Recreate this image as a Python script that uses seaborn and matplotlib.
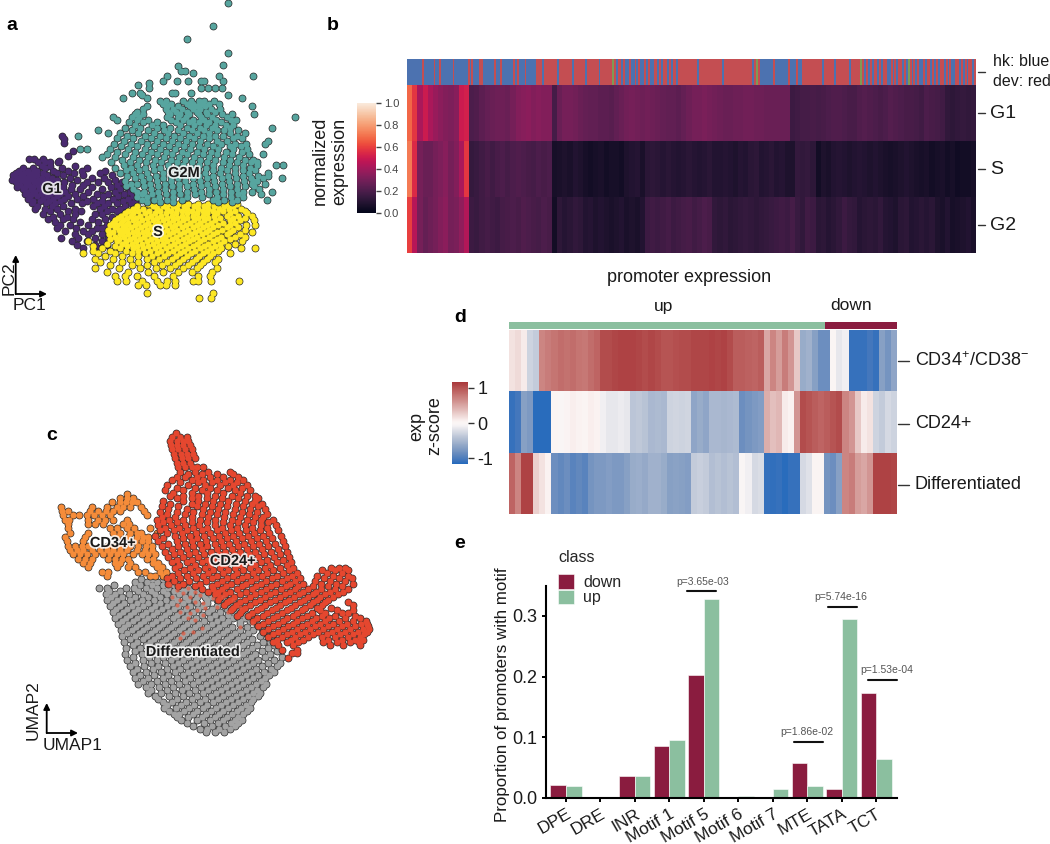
import numpy as np
import pandas as pd
import matplotlib
matplotlib.use("Agg")
import matplotlib.pyplot as plt
import matplotlib.patheffects as pe
from matplotlib.colors import ListedColormap
import seaborn as sns

W, H = 1050, 844

# panel a, cell coordinates on an arbitrary PC1/PC2 scale, one (PC2, [PC1...]) per row
g1_rows = [
    (408,[185]),(418,[193]),(428,[193]),(452,[218]),(467,[203]),(482,[177]),
    (478,[88,102,128]),(487,[115,135,150,175]),(497,[125,150,225]),
    (505,[70,100,135,185,260]),(512,[58,85,112,160,205,245,315]),
    (519,[48,72,98,128,172,222,300]),(526,[40,62,88,112,142,190,250,335]),
    (533,[52,76,100,125,155,210,275,312]),(540,[35,64,88,114,140,170,232,345]),
    (547,[48,76,102,128,158,192,262,295,325,365]),(554,[60,88,114,140,172,215,250,350]),
    (561,[52,76,100,128,155,190,275,332,380]),(568,[68,92,118,145,175,212,240,305,360]),
    (575,[80,105,132,160,195,265,345,390]),(582,[75,96,122,150,180,225,290,325,372]),
    (589,[90,112,140,170,205,250,310,355,400]),(596,[85,128,158,192,232,278,340,385]),
    (603,[100,120,148,180,262,305,368,405]),(610,[95,138,165,212,245,290,325,350,392]),
    (618,[112,155,190,280,312,375]),(626,[105,135,172,225,300,335,360,398]),
    (634,[150,205,242,320,350,385]),(642,[130,180,225,285,305,375]),
    (650,[160,200,335,360]),(658,[145,188,218,275,315,385]),(666,[165,240,295,345]),
    (675,[180,210,265,320]),(684,[170,228,290,305,340]),(693,[195,250,275]),
    (702,[225,265,305]),(714,[183,235,285,325]),(724,[215,262,305]),(735,[232,285,320]),(745,[248,300]),
]
s_rows = [
    (612,[445,475,505,535,565,595,625,655,685,712]),
    (619,[410,458,490,520,552,582,612,642,672,700]),
    (626,[398,430,470,500,532,562,595,625,658,688,722]),
    (633,[385,415,448,480,512,545,575,608,640,670,705,735]),
    (640,[375,400,435,465,498,528,560,592,622,652,690,740]),
    (647,[362,392,420,452,482,515,545,578,610,642,680,715,755]),
    (654,[355,380,408,440,470,502,532,562,595,625,660,700,735]),
    (661,[345,370,398,425,458,488,520,550,582,612,645,690,720,762]),
    (668,[340,362,385,415,445,475,508,538,570,600,632,670,705]),
    (675,[330,352,378,405,435,465,495,525,558,590,622,655,690,738,765]),
    (682,[345,368,392,422,452,482,515,545,578,608,640,680,715]),
    (689,[325,358,382,410,440,470,502,532,565,598,628,665,700,735]),
    (696,[338,370,398,428,458,490,520,552,585,618,650,690,757]),
    (703,[328,360,385,415,445,478,508,540,572,605,640,680,720]),
    (710,[345,372,402,432,465,495,528,560,592,628,662,705,735]),
    (717,[330,358,390,420,452,485,515,548,580,612,650,690]),
    (724,[265,350,378,408,440,472,502,535,568,600,640,672,727]),
    (731,[320,365,395,425,458,490,522,555,590,625,660,705]),
    (738,[280,345,382,412,445,478,510,542,578,612,645,685]),
    (745,[305,360,398,430,465,498,530,565,600,632,662,723,765]),
    (752,[278,330,378,415,450,482,518,552,585,620,655]),
    (760,[250,295,345,395,435,470,505,540,572,610,640,690]),
    (768,[315,365,415,455,492,528,562,598,630]),
    (776,[285,340,390,440,478,515,550,588,622,655]),
    (785,[300,365,415,462,500,538,575,610,645]),
    (795,[330,395,440,485,525,565,600]),
    (805,[285,358,420,468,510,550,590,650]),
    (816,[320,385,445,490,535,575,635]),
    (828,[345,375,410,462,518,595,630]),
    (842,[352,378,425,470,500,525,580,595,632,716]),
    (856,[415,438,480,497,525]),
    (878,[442,640]),(893,[598,634]),
]
g2m_rows = [
    (8,[683]),(78,[640]),(118,[560]),(158,[683]),(195,[668]),(197,[535]),(212,[555,543]),
    (218,[580]),(228,[758,658,500]),(243,[490,530,565,603,612,670]),(250,[448]),(255,[415]),
    (265,[448,603,625,645,665]),(278,[397,420,515,525,573]),(285,[425,683]),(295,[368,440,725]),
    (303,[481,497,548,573,596,612,641]),(311,[490,512,561,580,603,628,656]),
    (319,[440,501,533,571,590,614,755]),(327,[430,497,518,545,578,600,633,660]),
    (335,[412,505,527,561,590,618,645]),(343,[405,428,510,541,568,596,622,665,697,762]),
    (351,[340,395,418,501,533,558,603,636,681,886]),(359,[352,410,445,512,549,579,612,648,692,707]),
    (367,[388,430,470,527,566,596,628,663]),(375,[405,456,488,541,582,618,645,677,700]),
    (383,[376,420,470,510,560,600,635,690,815]),(391,[293,395,445,492,533,575,612,652,672,714]),
    (399,[325,360,413,462,505,548,590,628,690,735]),(407,[233,382,434,480,522,566,608,645,668,712]),
    (415,[350,400,452,497,540,583,628,700,726]),(423,[372,424,470,515,558,600,650,680,805]),
    (431,[341,392,440,490,533,575,620,662,705,737,795]),(439,[362,412,462,508,552,596,640,690,722]),
    (447,[260,240,330,385,434,480,525,570,612,655,700,742]),(455,[352,405,452,498,545,590,632,678,725]),
    (463,[320,375,425,472,517,562,608,650,695,748,788]),(471,[305,345,398,445,492,538,582,628,672,718]),
    (479,[365,418,464,512,555,600,645,690,735,760]),(487,[332,390,437,482,530,575,620,668,712,752,770]),
    (495,[372,412,458,505,550,596,640,686,730,772,827,850]),(503,[345,392,435,480,528,572,618,662,705,750]),
    (511,[378,418,462,506,548,595,638,682,728,765]),(519,[360,400,442,488,530,572,616,660,705,748,805]),
    (527,[382,424,468,512,555,598,640,685,730,775,805]),(535,[405,448,490,534,578,620,665,708,752,790,845]),
    (543,[375,428,470,512,556,600,642,688,732,770,760]),(551,[392,410,450,494,536,580,622,665,710,755,795]),
    (559,[378,432,474,516,560,604,646,690,735,762]),(567,[400,452,495,538,582,626,668,712,778]),
    (575,[412,432,475,518,560,604,648,692,730,755,815]),(583,[425,455,498,540,584,626,670,714,782]),
    (591,[410,440,478,520,562,606,650,692,728]),(599,[425,462,500,545,640,672,712,800]),
    (607,[442,480,520,655,695]),
]

# panel c, UMAP coordinates on an arbitrary scale
orange_rows = [
    (222,[320]),(235,[300,320,340]),(247,[275,300,318,336,350]),
    (260,[122,215,262,290,310,330,362]),(273,[125,145,210,235,258,280,300,372]),
    (286,[130,160,178,200,222,245,270,380]),(299,[135,148,205,235,255,280,322]),
    (312,[145,205,225,248,310,328]),(325,[145,270,290,320,342,390]),
    (338,[150,205,280,300,330,350,362,412]),(351,[135,195,290,325,350,370,385]),
    (364,[140,190,345,365,385]),(377,[145,165,185,205,260,280,300,330,355,378,395]),
    (390,[150,170,188,215,240,260,280,300,320,350,375,395]),
    (403,[160,180,200,225,250,270,290,310,340,365,385,405]),
    (416,[175,195,215,265,285,305,325,380,400]),
    (429,[190,210,285,300,330,400,415]),(442,[205,290,325,345,410,425]),
    (455,[245,265,355,375,420,438]),(468,[262,390,405,430,445]),
]
red_rows = [
    (38,[467]),(50,[455,480,500]),(62,[450,470,490,505]),(75,[452,470,488,510]),
    (88,[455,475,495,515]),(102,[462,482,500,520]),(115,[465,485,505,525]),(128,[470,490,510]),
    (142,[475,495,515,530,550]),
    (155,[480,525,565,630]),(163,[505,545,590,640]),(171,[470,495,530,570,610,655]),
    (179,[455,515,550,590,630,670]),(187,[480,535,575,615,650]),(195,[440,505,555,600,640,680]),
    (203,[470,525,570,625,665]),(211,[435,490,545,590,645,690]),(219,[460,515,560,610,660]),
    (227,[450,490,535,585,635,680,705]),(235,[470,515,560,605,655,715]),
    (243,[430,490,535,580,625,675,705]),(251,[450,515,555,600,648,695,725]),
    (259,[425,475,530,575,622,670,715]),(267,[445,500,550,595,645,690,735]),
    (275,[420,470,520,570,615,665,712]),(283,[440,495,545,590,640,688,742]),
    (291,[425,465,515,565,612,660,705,730]),(299,[410,448,490,540,585,635,680,722,758]),
    (307,[430,470,515,560,610,655,700,745]),(315,[415,452,495,538,585,630,675,722,768]),
    (323,[435,478,520,562,605,650,695,740]),(331,[420,462,502,545,590,632,678,720,775]),
    (339,[440,485,528,570,615,658,702,748]),(347,[405,465,510,552,596,640,685,728,782]),
    (355,[430,490,532,578,622,665,710,755]),(363,[415,470,515,558,602,648,692,738,788]),
    (371,[445,495,540,585,628,672,718,765]),(379,[425,475,520,562,610,655,700,745,795]),
    (387,[455,500,545,590,635,680,725,775]),(395,[435,480,525,572,615,660,705,752,800]),
    (403,[462,508,552,598,642,688,732,780]),(411,[445,490,535,580,625,670,715,762,808]),
    (419,[472,515,560,605,650,695,742,790]),(427,[455,500,545,590,632,678,722,770,812]),
    (435,[478,525,570,615,660,705,750,800]),(443,[465,510,555,600,645,690,735,780,820,932,958,975]),
    (451,[492,535,580,625,670,715,760,808,905,945,985]),(459,[475,520,565,610,652,698,742,790,830,922,965]),
    (467,[455,500,548,592,638,680,725,772,815,892,940,985]),(475,[440,480,528,575,620,665,708,755,800,840,912,958,995]),
    (483,[462,508,558,605,650,692,738,785,825,885,930,975]),(491,[445,490,540,590,632,678,722,768,810,850,902,948,1000]),
    (499,[475,525,575,618,665,708,752,798,835,880,925,965]),(507,[545,578,605,650,695,738,782,825,865,902,945,985]),
    (515,[565,595,630,678,722,765,810,850,888,930,968]),(523,[585,615,660,705,750,795,838,878,915,955]),
    (531,[600,642,690,735,780,822,865,900,940]),(539,[595,630,675,720,765,808,852,890,925]),
    (547,[620,660,705,750,795,840,880,915,985]),(555,[612,648,690,735,780,825,870,905,998]),
    (563,[640,675,722,768,812,855,892,932]),(571,[632,665,710,755,800,845,900,950,1000]),
    (579,[660,695,740,785,830,875,915,965,985]),(587,[652,685,728,772,818,860,905,945,1005]),
    (595,[712,758,802,845,888,928,975,1020]),(603,[700,745,790,832,875,915,958,1000,1038]),
    (611,[730,775,818,860,900,940,982,1022,1040]),(619,[715,760,805,845,885,925,965,1005,1045]),
    (627,[745,790,830,870,910,950,990,1028,1048]),(635,[730,775,815,855,895,935,975,1015,1040]),
    (643,[760,800,840,880,920,960,1000,1032]),(651,[745,785,825,865,905,945,985,1020]),
    (659,[770,812,850,925,965,1005,1030]),(667,[760,800,835,910,950,990,1018]),
    (676,[775,820,930,970,1020]),(689,[785,830]),(700,[815,830]),(713,[805]),
]
gray_rows = [
    (478,[362,395,430]),(487,[345,380,412,445,478]),(496,[282,360,395,428,462]),
    (505,[237,262,318,342,378,410,445,482,505]),(514,[268,300,355,392,428,462,492,515,535]),
    (523,[258,285,328,368,405,440,478,512,545,570]),(532,[272,305,345,385,420,458,495,530,555,575,600]),
    (541,[262,292,330,365,402,438,472,505,525,562,590,618]),(550,[280,312,350,385,420,455,490,530,560,600,640]),
    (559,[270,300,335,368,405,440,475,510,550,590,625,655]),(568,[288,322,355,392,425,462,498,535,575,620,650]),
    (577,[278,308,342,378,412,448,482,520,565,600,640,672]),(586,[296,330,365,398,435,470,505,545,585,625,660,680]),
    (595,[285,318,352,385,422,458,492,528,570,605,640,675,700]),(604,[305,338,372,408,442,478,515,552,590,625,660,690]),
    (613,[295,325,360,395,430,465,500,538,575,612,660,712]),(622,[312,348,382,418,452,488,525,560,598,635,680,722]),
    (631,[302,335,370,405,440,476,510,548,585,622,660,700,735]),(640,[322,358,392,428,462,498,535,572,608,645,685,725]),
    (649,[305,345,380,415,450,485,522,558,595,632,670,720,745]),(658,[330,368,402,438,475,510,545,582,620,655,695,760]),
    (667,[312,352,390,425,462,498,535,570,608,645,680,730,750]),(676,[338,378,412,450,485,522,558,595,632,668,712,762]),
    (685,[318,360,398,436,472,510,545,582,618,655,695,745]),(694,[345,385,422,460,498,532,570,606,642,680,725,770]),
    (703,[315,365,408,445,482,520,556,592,630,668,705,750]),(712,[340,388,430,468,505,542,580,618,655,692,735,785]),
    (721,[322,368,410,452,490,528,565,602,640,678,715,762]),(730,[345,392,435,475,512,550,588,625,662,700,745,780]),
    (739,[330,372,415,458,498,535,572,610,648,685,725,770]),(748,[352,398,440,480,520,558,595,632,670,708,752]),
    (757,[338,378,422,465,505,542,580,618,655,692,732,762]),(766,[360,402,445,488,528,565,602,640,678,715,748]),
    (775,[345,385,428,470,510,550,588,625,662,700,735]),(784,[368,410,452,495,535,572,610,648,685,722]),
    (793,[355,392,435,478,518,558,595,632,670,708,738]),(802,[378,418,460,502,542,580,618,655,692,728]),
    (811,[392,440,485,525,565,602,640,678,712]),(820,[385,422,465,508,548,588,625,662,700,720]),
    (829,[405,448,490,532,572,610,648,685,715]),(838,[415,470,515,555,595,632,670,698]),
    (847,[428,455,498,540,580,618,655,692]),(856,[440,482,522,562,602,640,678]),
    (865,[432,468,508,548,588,625,662,690]),(874,[448,492,532,572,610,650,680]),
    (883,[462,478,518,558,598,635,668]),(892,[470,505,545,585,622,655]),
    (901,[482,530,570,610,645,665]),(910,[500,552,595,632,655]),(919,[520,575,615,645]),
    (928,[540,560,598,630]),(937,[558,585,612]),
]
# red and orange cells scattered inside the grey cloud, no outline
overlap_x = [450,470,490,505,525,455,480,510,540,470,500,525,550,580,610,640,660,480,510,530,555,590,625,505,525,550,490,480,520,545,685,695,660]
overlap_y = [495,510,520,505,515,530,540,530,525,555,560,545,550,535,530,540,560,575,580,570,565,560,575,595,600,585,640,655,635,625,585,610,620]

# panel b, expression per promoter bin
g1_expr = [
    .68,.58,.42,.50,.42,.38,.35,.33,.32,.34,
    .50,.52,.20,.21,.24,.26,.27,.28,.28,.27,
    .30,.33,.34,.35,.33,.34,.33,.33,.18,.27,
    .30,.30,.29,.27,.26,.25,.25,.24,.24,.23,
    .25,.27,.29,.30,.29,.28,.29,.28,.27,.26,
    .25,.25,.24,.26,.28,.30,.30,.31,.30,.29,
    .28,.27,.27,.28,.28,.29,.29,.28,.28,.27,
    .27,.27,.27,.27,.16,.17,.18,.18,.19,.18,
    .19,.20,.21,.21,.20,.19,.19,.21,.22,.21,
    .20,.19,.20,.22,.21,.20,.19,.19,.18,.17,
    .20,.19,.18,.17,.13,.12,.13,.14,.13,.14]
s_expr = [
    .72,.55,.30,.27,.27,.30,.32,.34,.30,.33,
    .42,.58,.14,.15,.17,.19,.17,.19,.20,.18,
    .20,.21,.20,.19,.18,.20,.19,.20,.06,.07,
    .08,.07,.09,.08,.06,.05,.06,.07,.05,.06,
    .06,.05,.08,.09,.10,.07,.11,.12,.11,.10,
    .11,.10,.09,.10,.11,.10,.09,.10,.11,.09,
    .09,.10,.09,.08,.10,.09,.11,.12,.09,.10,
    .11,.09,.10,.08,.08,.14,.13,.14,.12,.05,
    .08,.07,.09,.10,.09,.08,.09,.10,.09,.08,
    .09,.08,.07,.06,.07,.08,.09,.08,.07,.06,
    .07,.05,.06,.07,.05,.06,.04,.05,.05,.06]
g2_expr = [
    .60,.45,.30,.26,.28,.30,.33,.35,.30,.31,
    .36,.44,.16,.15,.17,.18,.17,.16,.18,.19,
    .20,.19,.21,.20,.19,.18,.20,.19,.05,.12,
    .10,.11,.13,.12,.09,.10,.08,.09,.08,.07,
    .08,.09,.07,.08,.07,.09,.16,.17,.16,.17,
    .18,.16,.17,.18,.19,.17,.18,.20,.19,.13,
    .12,.13,.11,.12,.13,.14,.13,.12,.13,.14,
    .15,.16,.17,.16,.18,.15,.13,.17,.16,.11,
    .12,.10,.11,.13,.16,.14,.13,.10,.11,.12,
    .11,.13,.10,.09,.08,.11,.12,.09,.10,.11,
    .10,.11,.08,.07,.09,.06,.07,.08,.09,.07]
# b = housekeeping, r = developmental, g = other
promoter_class = (
    "bbbbbbbbrbbbbbrbbrbbbbbbrbbbbb"
    "bbrbrbbbrrbbbbbbrbbrbbbbbbrbrb"
    "bbrbbbbbrrrbrrrrrrrbrrrrrrrbrr"
    "rrrrbrrrrrrbrrrrrrgrbrrbrbbrbb"
    "rbrbbrbrbbrrbrbrrbrbrrbrrrrrrr"
    "rrrbrrrrrrrrrrrrbrrrrrrrrrrrrr"
    "rrbrgrbbbbbbbrbbbbbbbrbbbrbbrr"
    "rrrrrrrrrbrrrrrbrrrrrrrbrrrrrg"
    "rbrbrbrrbrbrrbbrbrbrrbrbgrbrbr"
    "bbrbrrbrbrbrrbrbrbbrrbrbrbrrbr")
phase_labels = ["G1", "S", "G2"]

# panel d, z-score per promoter bin
cd34_z = [.15,.2,.1,-.3,-.35,.7,.75,.8,.85,.82,.85,.8,.78,.85,.9,1.05,1.05,1.08,1.1,1.1,
          1.1,1.08,1.05,1.08,1.05,1.0,1.0,1.03,1.05,1.05,1.08,1.08,1.08,1.1,1.08,1.1,1.05,.95,.95,.92,
          .9,.95,.5,.7,.55,.75,.6,.3,-.6,-.55,-.7,-.85,-.85,.0,-.15,-.1,-1.1,-1.1,-1.1,-1.05,-1.1,-.7,-.8,-.65]
cd24_z = [-1.1,-1.05,-.7,-.75,-1.15,-1.15,-1.15,.02,-.02,.03,.08,.05,.02,.08,.05,-.1,-.15,-.15,-.12,-.15,
          -.4,-.38,-.42,-.5,-.48,-.5,-.3,-.28,-.3,-.28,-.65,-.6,-.65,-.5,-.5,-.52,-.5,-.48,-.85,-.8,
          -.75,-.72,.45,.35,.4,.1,.05,.6,1.05,1.0,.95,.9,.95,1.0,1.05,.7,.6,.3,.1,.15,-.3,-.35,-.25,-.3]
diff_z = [.9,.7,1.1,1.1,.25,.15,.05,-.85,-.9,-.85,-.95,-.9,-.95,-.8,-.75,-.75,-.72,-.75,-.75,-.7,
          -.6,-.58,-.62,-.55,-.55,-.6,-.7,-.68,-.7,-.72,-.35,-.32,-.35,-.45,-.42,-.45,-.42,-.45,-.02,-.1,
          -.25,-.22,-1.1,-1.12,-1.1,-1.15,-1.1,-1.1,-.25,-.2,.02,.02,-.8,-.85,-.7,.7,.75,.55,.5,.6,1.1,1.1,1.1,1.08]
state_labels = ["CD34$^{+}$/CD38$^{-}$", "CD24+", "Differentiated"]

# panel e
motifs = ["DPE", "DRE", "INR", "Motif 1", "Motif 5", "Motif 6", "Motif 7", "MTE", "TATA", "TCT"]
down_prop = [.022, 0, .036, .086, .202, 0, 0, .058, .015, .173]
up_prop = [.020, 0, .037, .096, .327, .004, .015, .019, .295, .064]
pval_text = ["p=3.65e-03", "p=1.86e-02", "p=5.74e-16", "p=1.53e-04"]
pval_from = [3.52, 6.6, 7.6, 8.76]
pval_to = [4.36, 7.44, 8.44, 9.6]
pval_y = [.34, .093, .315, .195]
pval_text_x = [3.95, 6.98, 7.97, 9.3]

DOWN = "#8a1c3f"
UP = "#8bbf9f"

sns.set_theme(style="white")
plt.rcParams["font.family"] = ["Liberation Sans", "DejaVu Sans"]
plt.rcParams["mathtext.default"] = "regular"
plt.rcParams["mathtext.fontset"] = "custom"
plt.rcParams["mathtext.rm"] = "Liberation Sans"
INK = "#1a1a1a"

fig = plt.figure(figsize=(W / 100, H / 100), dpi=100)


def px_axes(x0, y0, x1, y1):
    return fig.add_axes([x0 / W, 1 - y1 / H, (x1 - x0) / W, (y1 - y0) / H])


def label(x, y, s, size=13, **kw):
    kw.setdefault("ha", "center")
    kw.setdefault("va", "center")
    kw.setdefault("color", INK)
    return fig.text(x / W, 1 - y / H, s, fontsize=size, **kw)


def flat(rows):
    xs, ys = [], []
    for y, row in rows:
        xs += row
        ys += [y] * len(row)
    return xs, ys


def cells(ax, rows, color):
    xs, ys = flat(rows)
    sns.scatterplot(x=xs, y=ys, s=31, color="#262626", linewidth=0, ax=ax, legend=False)
    sns.scatterplot(x=xs, y=ys, s=21, color=color, linewidth=0, ax=ax, legend=False)


def corner_arrows(ax_x, ax_y, x_end, y_end, xname, yname, xpos, ypos):
    arrow = dict(arrowstyle="-|>", color="black", lw=1.3, mutation_scale=9, shrinkA=0, shrinkB=0)
    ax = fig.add_axes([0, 0, 1, 1], facecolor="none")
    ax.set_xlim(0, W)
    ax.set_ylim(H, 0)
    ax.axis("off")
    ax.annotate("", xy=(x_end, ax_y), xytext=(ax_x, ax_y), arrowprops=arrow)
    ax.annotate("", xy=(ax_x, y_end), xytext=(ax_x, ax_y), arrowprops=arrow)
    label(xpos[0], xpos[1], xname, size=12.5)
    label(ypos[0], ypos[1], yname, size=12.5, rotation=90)


def cluster_name(x, y, s, size=10.5):
    label(x, y, s, size=size, fontweight="bold", zorder=10,
          path_effects=[pe.withStroke(linewidth=2.5, foreground="white", alpha=.85)])


# a
ax_a = px_axes(0, 0, 320, 330)
cells(ax_a, g1_rows, "#4a2a70")
cells(ax_a, s_rows, "#fde725")
cells(ax_a, g2m_rows, "#57a59f")
ax_a.set_xlim(0, 960)
ax_a.set_ylim(990, 0)
ax_a.axis("off")
cluster_name(52, 189, "G1")
cluster_name(184, 173, "G2M")
cluster_name(158, 232, "S")
corner_arrows(15.7, 294, 47, 255, "PC1", "PC2", (30, 306), (9, 278))

# b
strip_map = {"b": 0, "r": 1, "g": 2}
ax_strip = px_axes(407, 59, 976, 85)
sns.heatmap(np.array([[strip_map[c] for c in promoter_class]]), ax=ax_strip, cbar=False,
            cmap=ListedColormap(["#4c72b0", "#c44e52", "#7f9a55"]), vmin=0, vmax=2,
            xticklabels=False, yticklabels=False)
ax_strip.set_xlabel("")

ax_b = px_axes(407, 85, 976, 253)
cax_b = px_axes(357, 103, 376, 213)
sns.heatmap(pd.DataFrame([g1_expr, s_expr, g2_expr], index=phase_labels), ax=ax_b, cbar_ax=cax_b,
            cmap="rocket", vmin=0, vmax=1, xticklabels=False, yticklabels=False)
cax_b.set_yticks([0, .2, .4, .6, .8, 1.0])
cax_b.set_yticklabels(["0.0", "0.2", "0.4", "0.6", "0.8", "1.0"], fontsize=8, color="#444444")
cax_b.tick_params(right=True, length=3.5, width=1, color="#444444", pad=2)
for name, y in zip(phase_labels, [113, 169, 225]):
    label(990, y, name, size=14, ha="left")
    fig.add_artist(plt.Line2D([978 / W, 985 / W], [1 - y / H, 1 - y / H], color="#333333", lw=1))
fig.add_artist(plt.Line2D([978 / W, 985 / W], [1 - 72 / H, 1 - 72 / H], color="#333333", lw=1))
label(993, 62, "hk: blue", size=11.5, ha="left")
label(993, 82, "dev: red", size=11.5, ha="left")
label(689, 277, "promoter expression", size=13)
label(330, 161, "normalized\nexpression", size=13, rotation=90, linespacing=1.15)

# c
ax_c = px_axes(20, 420, 390, 760)
cells(ax_c, gray_rows, "#a3a3a3")
cells(ax_c, orange_rows, "#f58c3a")
cells(ax_c, red_rows, "#e5472f")
sns.scatterplot(x=overlap_x, y=overlap_y, s=9, color="#e5583f", alpha=.7, linewidth=0, ax=ax_c, legend=False)
ax_c.set_xlim(0, 1110)
ax_c.set_ylim(1020, 0)
ax_c.axis("off")
cluster_name(113, 543, "CD34+")
cluster_name(233, 561, "CD24+")
cluster_name(193, 652, "Differentiated")
corner_arrows(46.7, 733, 78, 703, "UMAP1", "UMAP2", (73, 745), (33, 710))

# d
ax_top = px_axes(509, 322, 897, 329)
ax_top.barh([0], [316], left=[0], height=1, color=UP, linewidth=0)
ax_top.barh([0], [72], left=[316], height=1, color=DOWN, linewidth=0)
ax_top.set_xlim(0, 388)
ax_top.set_ylim(-.5, .5)
ax_top.axis("off")

ax_d = px_axes(509, 330, 897, 514)
cax_d = px_axes(452, 382, 468, 464)
sns.heatmap(pd.DataFrame([cd34_z, cd24_z, diff_z]), ax=ax_d, cbar_ax=cax_d, cmap="vlag", center=0,
            vmin=-1.17, vmax=1.17, xticklabels=False, yticklabels=False)
cax_d.set_yticks([-1, 0, 1])
cax_d.set_yticklabels(["-1", "0", "1"], fontsize=13, color=INK)
cax_d.tick_params(right=True, length=4, width=1, color="#333333", pad=3)
for name, y in zip(state_labels, [361, 424, 485]):
    label(915, y, name, size=13, ha="left")
    fig.add_artist(plt.Line2D([898 / W, 909 / W], [1 - y / H, 1 - y / H], color="#333333", lw=1))
label(664, 306, "up", size=12.5)
label(851, 305, "down", size=12.5)
label(426, 426, "exp\nz-score", size=13, rotation=90, linespacing=1.1)

# e
ax_e = px_axes(546, 586, 897, 798)
bars = pd.DataFrame({
    "motif": motifs * 2,
    "proportion": down_prop + up_prop,
    "class": ["down"] * len(motifs) + ["up"] * len(motifs),
})
sns.barplot(data=bars, x="motif", y="proportion", hue="class", order=motifs, hue_order=["down", "up"],
            palette=[DOWN, UP], width=.9, saturation=1, edgecolor="white", linewidth=.4, ax=ax_e)
ax_e.set_xlim(-.58, 9.6)
ax_e.set_ylim(0, .349)
ax_e.set_yticks([0, .1, .2, .3])
ax_e.set_yticklabels(["0.0", "0.1", "0.2", "0.3"], fontsize=13, color=INK)
ax_e.set_xticks(range(len(motifs)))
ax_e.set_xticklabels(motifs, fontsize=12.5, color=INK, rotation=30, ha="right", rotation_mode="anchor")
ax_e.tick_params(axis="both", bottom=True, left=True, length=3, width=1.4, color="black", pad=3)
ax_e.set_xlabel("")
ax_e.set_ylabel("")
for side in ["top", "right"]:
    ax_e.spines[side].set_visible(False)
for side in ["left", "bottom"]:
    ax_e.spines[side].set_color("black")
    ax_e.spines[side].set_linewidth(1.5)
for a, b, y, tx, s in zip(pval_from, pval_to, pval_y, pval_text_x, pval_text):
    ax_e.plot([a, b], [y, y], color="#111111", lw=1.5, clip_on=False)
    ax_e.text(tx, y + .007, s, fontsize=7.5, color="#555555", ha="center", va="bottom", clip_on=False)
leg_handles = ax_e.get_legend_handles_labels()
leg = ax_e.legend(leg_handles[0], leg_handles[1], title="class", frameon=False, fontsize=11.5, title_fontsize=11.5,
                  loc="upper left", bbox_to_anchor=(.034, 1.172), handlelength=1.0, handleheight=1.0, labelspacing=0,
                  handletextpad=.6, borderaxespad=0, borderpad=0, alignment="left")
leg._legend_box.sep = 7
label(502, 695, "Proportion of promoters with motif", size=12.2, rotation=90)

for s, x, y in [("a", 12, 26), ("b", 333, 26), ("c", 52, 436), ("d", 460, 318), ("e", 460, 544)]:
    label(x, y, s, size=14, fontweight="bold", color="black")

fig.savefig("out.png", dpi=100)
